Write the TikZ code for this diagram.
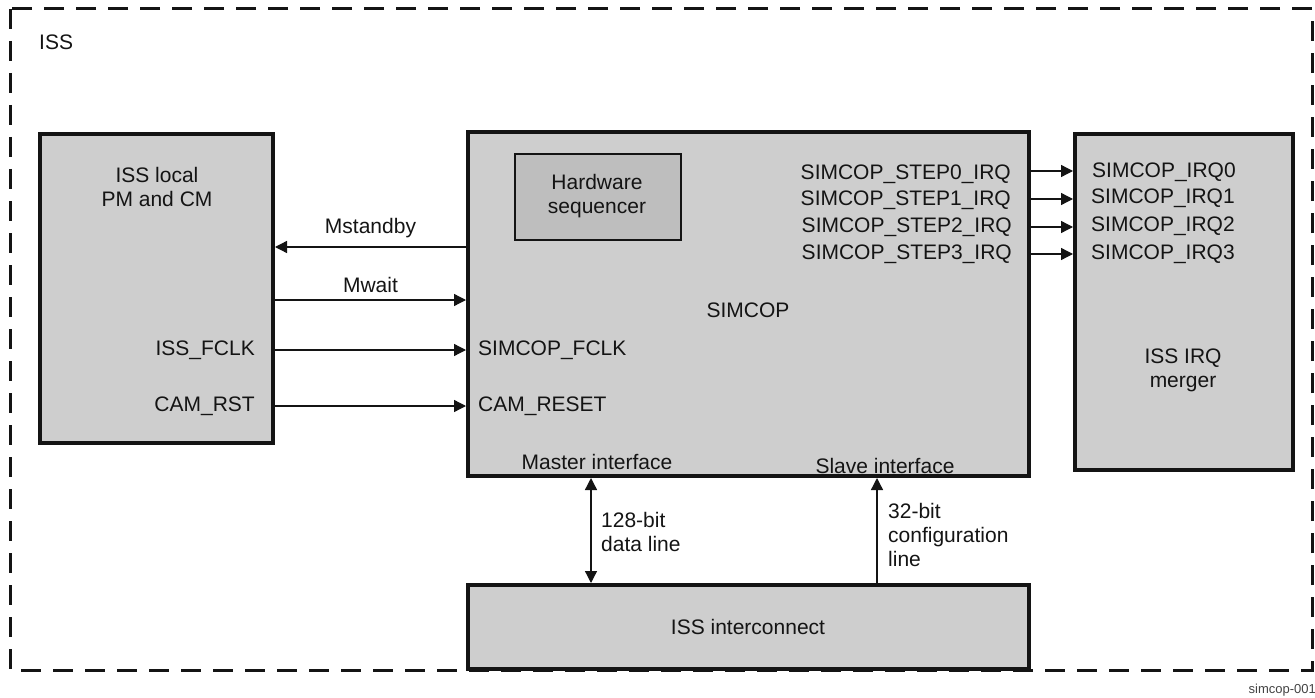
\documentclass[tikz,border=0pt]{standalone}
\usepackage{fontspec}
\setmainfont{Liberation Sans}
\usetikzlibrary{arrows.meta}
\definecolor{boxgray}{RGB}{206,206,206}
\definecolor{seqgray}{RGB}{190,190,190}
\definecolor{ink}{RGB}{20,20,20}
\tikzset{
  blk/.style={draw=ink, fill=boxgray, line width=4pt, rectangle, inner sep=0pt, anchor=north west},
  seqblk/.style={draw=ink, fill=seqgray, line width=2pt, rectangle, inner sep=0pt, anchor=north west},
  txt/.style={font=\fontsize{21}{24}\selectfont, text=ink, inner sep=0pt},
  lbl/.style={txt, align=center},
  sig/.style={draw=ink, line width=1.3pt, -{Triangle[length=12pt,width=12pt]}},
  sigboth/.style={draw=ink, line width=1.3pt, {Triangle[length=12pt,width=12pt]}-{Triangle[length=12pt,width=12pt]}},
  frame/.style={draw=ink, line width=3pt, dash pattern=on 20pt off 12pt}
}
\begin{document}
\begin{tikzpicture}[x=1pt,y=-1pt]
\useasboundingbox (0,0) rectangle (1315,698);
% outer dashed ISS frame
\draw[frame] (10,9) rectangle (1312,670);
\node[txt, anchor=west] (iss) at (39,42) {ISS};

% blocks
\node[blk, minimum width=233pt, minimum height=309pt] (local) at (38,132) {};
\node[blk, minimum width=561pt, minimum height=344pt] (simcop) at (466,130) {};
\node[seqblk, minimum width=166pt, minimum height=86pt] (seq) at (514,153) {};
\node[blk, minimum width=218pt, minimum height=336pt] (merger) at (1073,132) {};
\node[blk, minimum width=561pt, minimum height=84pt] (ic) at (466,583) {};

% block texts
\node[lbl] (localtxt) at (157,187) {ISS local\\PM and CM};
\node[lbl] (seqtxt) at (597,196) {Hardware\\sequencer};
\node[lbl] (simcoptxt) at (748,310) {SIMCOP};
\node[lbl] (mergertxt) at (1183,370) {ISS IRQ\\merger};
\node[lbl] (ictxt) at (748,627) {ISS interconnect};
\node[txt, anchor=east] (fclk) at (255,350) {ISS\_FCLK};
\node[txt, anchor=east] (camrst) at (255,406) {CAM\_RST};
\node[txt, anchor=west] (sfclk) at (478,350) {SIMCOP\_FCLK};
\node[txt, anchor=west] (camreset) at (478,406) {CAM\_RESET};
\node[txt] (master) at (597,462) {Master interface};
\node[txt] (slave) at (885,466) {Slave interface};

% IRQ labels
\node[txt, anchor=east] (st0) at (1011,174) {SIMCOP\_STEP0\_IRQ};
\node[txt, anchor=east] (st1) at (1011,200) {SIMCOP\_STEP1\_IRQ};
\node[txt, anchor=east] (st2) at (1012,227) {SIMCOP\_STEP2\_IRQ};
\node[txt, anchor=east] (st3) at (1012,254) {SIMCOP\_STEP3\_IRQ};
\node[txt, anchor=west] (irq0) at (1092,172) {SIMCOP\_IRQ0};
\node[txt, anchor=west] (irq1) at (1091,198) {SIMCOP\_IRQ1};
\node[txt, anchor=west] (irq2) at (1091,226) {SIMCOP\_IRQ2};
\node[txt, anchor=west] (irq3) at (1091,254) {SIMCOP\_IRQ3};

% signals between local PM/CM and SIMCOP
\draw[sig] (simcop.west |- 0,247) -- node[txt, above=8pt] (mst) {Mstandby} (local.east |- 0,247);
\draw[sig] (local.east |- 0,300) -- node[txt, above=7pt] (mw) {Mwait} (simcop.west |- 0,300);
\draw[sig] (local.east |- 0,350) -- (simcop.west |- 0,350);
\draw[sig] (local.east |- 0,406) -- (simcop.west |- 0,406);

% IRQ arrows
\draw[sig] (simcop.east |- 0,171) -- (merger.west |- 0,171);
\draw[sig] (simcop.east |- 0,199) -- (merger.west |- 0,199);
\draw[sig] (simcop.east |- 0,227) -- (merger.west |- 0,227);
\draw[sig] (simcop.east |- 0,254) -- (merger.west |- 0,254);

% interconnect links
\draw[sigboth] (simcop.south -| 591,0) -- (ic.north -| 591,0);
\draw[sig] (ic.north -| 877,0) -- (simcop.south -| 877,0);
\node[txt, anchor=west, align=left] (data) at (601,532) {128-bit\\data line};
\node[txt, anchor=west, align=left] (cfg) at (888,535) {32-bit\\configuration\\line};

% figure id
\node[font=\fontsize{13}{15}\selectfont, text=ink!80, anchor=east, inner sep=0pt] (fig) at (1316,690) {simcop-001};
\end{tikzpicture}
\end{document}
